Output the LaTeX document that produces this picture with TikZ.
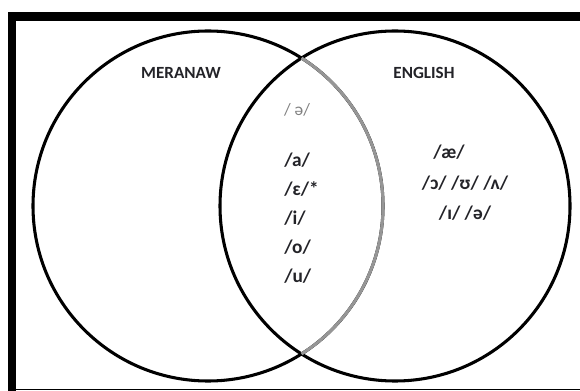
\documentclass[tikz,border=0pt]{standalone}
\usepackage{fontspec}
\setmainfont{Carlito}
\usetikzlibrary{positioning}

\definecolor{lensgray}{RGB}{150,150,150}
\definecolor{inkdark}{RGB}{35,35,40}

\tikzset{
  ring/.style={line width=2.3pt,black},
  setname/.style={font=\bfseries\fontsize{12.8}{14}\selectfont,text=inkdark,inner sep=0pt},
  vowel/.style={font=\bfseries\fontsize{14.5}{16}\selectfont,text=inkdark,inner sep=0pt},
}

\begin{document}
\begin{tikzpicture}[x=0.75pt,y=-0.75pt]
\useasboundingbox (0,0) rectangle (580,391);
% Frame
\fill[black] (8,12) rectangle (580,21);
\fill[black] (8,12) rectangle (16,391);
\draw[line width=1.1pt] (8,389.5) -- (580,389.5);
% Sets
\coordinate (mcenter) at (208,206);
\coordinate (ecenter) at (395,206);
\draw[ring] (mcenter) circle[radius=175];
\draw[ring] (ecenter) circle[radius=175];
\draw[ring,lensgray] (mcenter) ++(-57.7:175) arc[start angle=-57.7,end angle=57.7,radius=175];
% Set names
\node[setname] (meranaw) at (181,73) {MERANAW};
\node[setname] (english) at (424,73) {ENGLISH};
% Shared vowels
\node[font=\fontsize{13}{15}\selectfont,text=gray,inner sep=0pt] (schwa) at (297,110) {/ ə/};
\node[vowel,anchor=west] (va) at (284,160) {/a/};
\node[vowel,below=21.75pt of va.west,anchor=west] (ve) {/ɛ/*};
\node[vowel,below=21.75pt of ve.west,anchor=west] (vi) {/i/};
\node[vowel,below=21.75pt of vi.west,anchor=west] (vo) {/o/};
\node[vowel,below=21.75pt of vo.west,anchor=west] (vu) {/u/};
% English vowels
\node[vowel] (vae) at (449,152) {/æ/};
\node[vowel] (vback) at (465,183) {/ɔ/ /ʊ/ /ʌ/};
\node[vowel] (vlax) at (465,213) {/ɪ/ /ə/};
\end{tikzpicture}
\end{document}
